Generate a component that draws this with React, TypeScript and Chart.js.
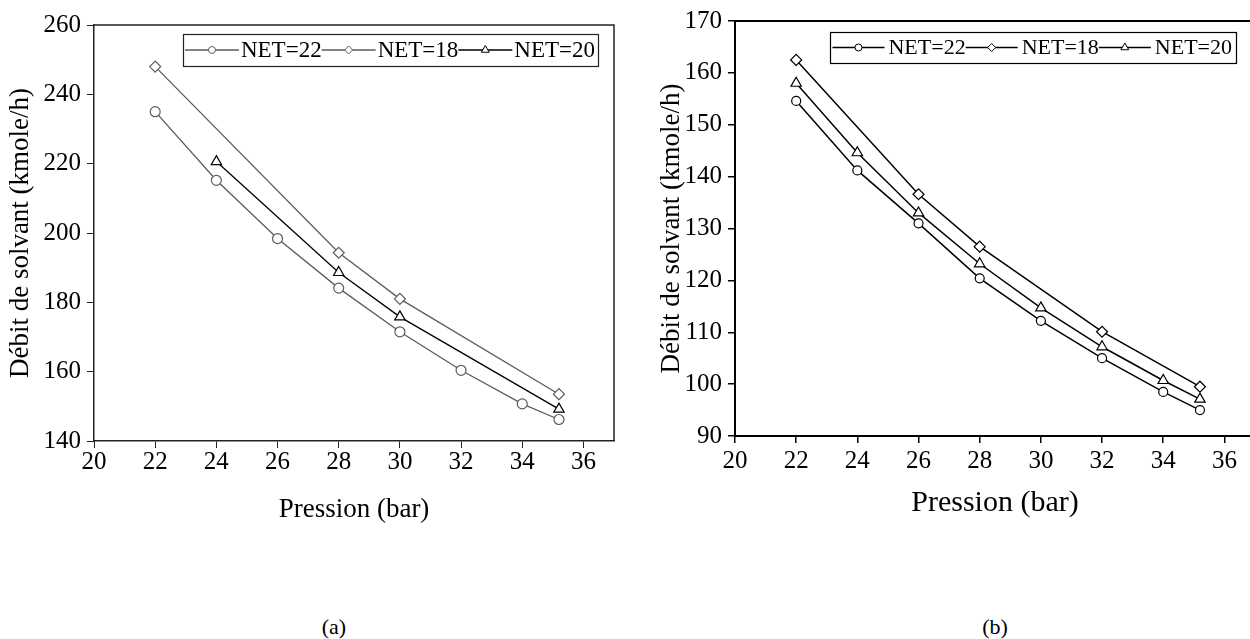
import React, { useEffect, useRef } from 'react';
import { Chart, registerables } from 'chart.js';

Chart.register(...registerables);

const FONT = '"Liberation Serif", "Times New Roman", Times, serif';

// ---- data ----
const seriesLabels = ['NET=22', 'NET=18', 'NET=20'];
const seriesPointStyles = ['circle', 'rectRot', 'triangle'];

// Panel (a)
const aNet22X = [22, 24, 26, 28, 30, 32, 34, 35.2];
const aNet22Y = [235, 215.2, 198.4, 184.1, 171.5, 160.4, 150.7, 146.2];
const aNet18X = [22, 28, 30, 35.2];
const aNet18Y = [248, 194.3, 181, 153.5];
const aNet20X = [24, 28, 30, 35.2];
const aNet20Y = [220.6, 188.6, 175.8, 149.2];

// Panel (b)
const bNet22X = [22, 24, 26, 28, 30, 32, 34, 35.2];
const bNet22Y = [154.6, 141.2, 131, 120.4, 112.2, 105, 98.5, 95];
const bNet18X = [22, 26, 28, 32, 35.2];
const bNet18Y = [162.5, 136.6, 126.5, 110.1, 99.5];
const bNet20X = [22, 24, 26, 28, 30, 32, 34, 35.2];
const bNet20Y = [158, 144.6, 133, 123.2, 114.7, 107.2, 100.7, 97.1];

const xAxisTitle = 'Pression (bar)';
const yAxisTitle = 'Débit de solvant (kmole/h)';
const xRange = { min: 20, max: 37, step: 2 };
const aYRange = { min: 140, max: 260, step: 20 };
const bYRange = { min: 90, max: 170, step: 10 };
const captions = ['(a)', '(b)'];

const toPoints = (xs: number[], ys: number[]) => xs.map((x, i) => ({ x, y: ys[i] }));

function drawMarker(ctx: CanvasRenderingContext2D, style: string, x: number, y: number, r: number) {
  ctx.beginPath();
  if (style === 'circle') {
    ctx.arc(x, y, r, 0, Math.PI * 2);
  } else if (style === 'rectRot') {
    ctx.moveTo(x, y - r);
    ctx.lineTo(x + r, y);
    ctx.lineTo(x, y + r);
    ctx.lineTo(x - r, y);
    ctx.closePath();
  } else {
    ctx.moveTo(x, y - r);
    ctx.lineTo(x + 0.866 * r, y + 0.5 * r);
    ctx.lineTo(x - 0.866 * r, y + 0.5 * r);
    ctx.closePath();
  }
  ctx.fill();
  ctx.stroke();
}

const boxLegendPlugin = {
  id: 'boxLegend',
  afterDraw(chart: any, _args: any, opts: any) {
    const ctx: CanvasRenderingContext2D = chart.ctx;
    const ca = chart.chartArea;
    ctx.save();
    ctx.font = `${opts.fontSize}px ${FONT}`;
    const items = chart.data.datasets.map((ds: any) => ({ ds, w: ctx.measureText(ds.label).width }));
    let total = opts.padLeft + opts.padRight;
    items.forEach((it: any) => (total += opts.sampleWidth + opts.gap + it.w));
    const right = ca.right - opts.offsetRight;
    const left = right - total;
    const top = ca.top + opts.offsetTop;
    const h = opts.height;
    ctx.fillStyle = '#fff';
    ctx.fillRect(left, top, total, h);
    ctx.strokeStyle = opts.borderColor;
    ctx.lineWidth = opts.borderWidth;
    ctx.strokeRect(Math.round(left) + 0.5, Math.round(top) + 0.5, Math.round(total), Math.round(h));
    const cy = top + h / 2;
    let x = left + opts.padLeft;
    items.forEach((it: any) => {
      const ds = it.ds;
      ctx.strokeStyle = ds.borderColor;
      ctx.lineWidth = ds.borderWidth;
      ctx.beginPath();
      ctx.moveTo(x, cy);
      ctx.lineTo(x + opts.sampleWidth, cy);
      ctx.stroke();
      ctx.fillStyle = '#fff';
      ctx.strokeStyle = ds.pointBorderColor;
      ctx.lineWidth = 1;
      drawMarker(ctx, ds.pointStyle, x + opts.sampleWidth / 2, cy, opts.markerRadius[ds.pointStyle]);
      ctx.fillStyle = '#000';
      ctx.textBaseline = 'middle';
      ctx.textAlign = 'left';
      ctx.fillText(ds.label, x + opts.sampleWidth + opts.gap, cy + 1);
      x += opts.sampleWidth + opts.gap + it.w;
    });
    ctx.restore();
  },
};

const framePlugin = {
  id: 'frame',
  afterDatasetsDraw(chart: any, _args: any, opts: any) {
    const ctx: CanvasRenderingContext2D = chart.ctx;
    const ca = chart.chartArea;
    ctx.save();
    ctx.strokeStyle = opts.color;
    ctx.lineWidth = opts.width;
    ctx.beginPath();
    ctx.moveTo(ca.left, ca.top);
    ctx.lineTo(ca.right, ca.top);
    ctx.lineTo(ca.right, ca.bottom);
    ctx.stroke();
    ctx.restore();
  },
};

type PanelCfg = {
  series: { xs: number[]; ys: number[]; color: string }[];
  yRange: { min: number; max: number; step: number };
  padTop: number;
  xAxisHeight: number;
  axisColor: string;
  axisWidth: number;
  lineWidth: number;
  radius: Record<string, number>;
  yTitlePad: number;
  xTitleSize: number;
  xTitlePad: number;
  xTickPad: number;
  legend: any;
};

function buildConfig(p: PanelCfg): any {
  return {
    type: 'line',
    data: {
      datasets: p.series.map((s, i) => ({
        label: seriesLabels[i],
        data: toPoints(s.xs, s.ys),
        borderColor: s.color,
        borderWidth: p.lineWidth,
        pointStyle: seriesPointStyles[i],
        pointRadius: p.radius[seriesPointStyles[i]],
        pointBorderColor: s.color,
        pointBackgroundColor: '#fff',
        pointBorderWidth: 1.2,
        tension: 0,
        fill: false,
      })),
    },
    options: {
      responsive: false,
      animation: false,
      events: [],
      devicePixelRatio: 1,
      layout: { padding: { left: 0, right: 11, top: p.padTop, bottom: 0 } },
      plugins: {
        legend: { display: false },
        tooltip: { enabled: false },
        boxLegend: p.legend,
        frame: { color: p.axisColor, width: p.axisWidth },
      },
      scales: {
        x: {
          type: 'linear',
          min: xRange.min,
          max: xRange.max,
          afterFit: (axis: any) => {
            axis.height = p.xAxisHeight;
          },
          ticks: {
            stepSize: xRange.step,
            includeBounds: false,
            color: '#000',
            padding: p.xTickPad,
            maxRotation: 0,
            font: { family: FONT, size: 25, lineHeight: 1 },
          },
          grid: { drawOnChartArea: false, drawTicks: true, tickLength: 7, color: p.axisColor, lineWidth: p.axisWidth - 0.5 },
          border: { display: true, color: p.axisColor, width: p.axisWidth },
          title: {
            display: true,
            text: xAxisTitle,
            color: '#000',
            font: { family: FONT, size: p.xTitleSize, lineHeight: 1 },
            padding: { top: 0, bottom: p.xTitlePad },
          },
        },
        y: {
          type: 'linear',
          min: p.yRange.min,
          max: p.yRange.max,
          afterFit: (axis: any) => {
            axis.width = 94;
          },
          ticks: {
            stepSize: p.yRange.step,
            includeBounds: false,
            color: '#000',
            padding: 6,
            font: { family: FONT, size: 25, lineHeight: 1 },
          },
          grid: { drawOnChartArea: false, drawTicks: true, tickLength: 7, color: p.axisColor, lineWidth: p.axisWidth - 0.5 },
          border: { display: true, color: p.axisColor, width: p.axisWidth },
          title: {
            display: true,
            text: yAxisTitle,
            color: '#000',
            font: { family: FONT, size: 27, lineHeight: 1 },
            padding: { top: p.yTitlePad, bottom: 0 },
          },
        },
      },
    },
    plugins: [boxLegendPlugin, framePlugin],
  };
}

const GRAY = '#5c5c5c';

const panelA: PanelCfg = {
  series: [
    { xs: aNet22X, ys: aNet22Y, color: GRAY },
    { xs: aNet18X, ys: aNet18Y, color: GRAY },
    { xs: aNet20X, ys: aNet20Y, color: '#000' },
  ],
  yRange: aYRange,
  padTop: 25,
  xAxisHeight: 99,
  axisColor: '#222',
  axisWidth: 1.5,
  lineWidth: 1.3,
  radius: { circle: 5, rectRot: 5.5, triangle: 6 },
  yTitlePad: 7.5,
  xTitleSize: 27,
  xTitlePad: 16.5,
  xTickPad: 2,
  legend: {
    fontSize: 23,
    offsetRight: 16,
    offsetTop: 9,
    height: 32,
    padLeft: 2,
    padRight: 3,
    sampleWidth: 54,
    gap: 2,
    borderColor: '#222',
    borderWidth: 1.2,
    markerRadius: { circle: 3.5, rectRot: 4, triangle: 4.5 },
  },
};

const panelB: PanelCfg = {
  series: [
    { xs: bNet22X, ys: bNet22Y, color: '#000' },
    { xs: bNet18X, ys: bNet18Y, color: '#000' },
    { xs: bNet20X, ys: bNet20Y, color: '#000' },
  ],
  yRange: bYRange,
  padTop: 21,
  xAxisHeight: 104,
  axisColor: '#000',
  axisWidth: 2,
  lineWidth: 1.5,
  radius: { circle: 4.5, rectRot: 5.5, triangle: 6 },
  yTitlePad: 17.5,
  xTitleSize: 30,
  xTitlePad: 22,
  xTickPad: 6,
  legend: {
    fontSize: 22,
    offsetRight: 19,
    offsetTop: 11,
    height: 31,
    padLeft: 2,
    padRight: 4,
    sampleWidth: 52,
    gap: 4,
    borderColor: '#000',
    borderWidth: 1.2,
    markerRadius: { circle: 3.5, rectRot: 4, triangle: 4.5 },
  },
};

function Panel({ cfg, left }: { cfg: PanelCfg; left: number }) {
  const ref = useRef<HTMLCanvasElement | null>(null);
  useEffect(() => {
    if (!ref.current) return;
    const chart = new Chart(ref.current, buildConfig(cfg));
    return () => chart.destroy();
  }, [cfg]);
  return (
    <canvas
      ref={ref}
      width={625}
      height={540}
      style={{ position: 'absolute', left, top: 0, width: 625, height: 540 }}
    />
  );
}

const captionStyle = (cx: number): React.CSSProperties => ({
  position: 'absolute',
  left: cx - 50,
  top: 615,
  width: 100,
  textAlign: 'center',
  fontFamily: FONT,
  fontSize: 22,
  lineHeight: '24px',
  color: '#000',
});

export default function App() {
  return (
    <div
      style={{
        position: 'absolute',
        left: 0,
        top: 0,
        width: 1250,
        height: 639,
        overflow: 'hidden',
        background: '#fff',
      }}
    >
      <Panel cfg={panelA} left={0} />
      <Panel cfg={panelB} left={641} />
      <div style={captionStyle(334)}>{captions[0]}</div>
      <div style={captionStyle(995)}>{captions[1]}</div>
    </div>
  );
}
